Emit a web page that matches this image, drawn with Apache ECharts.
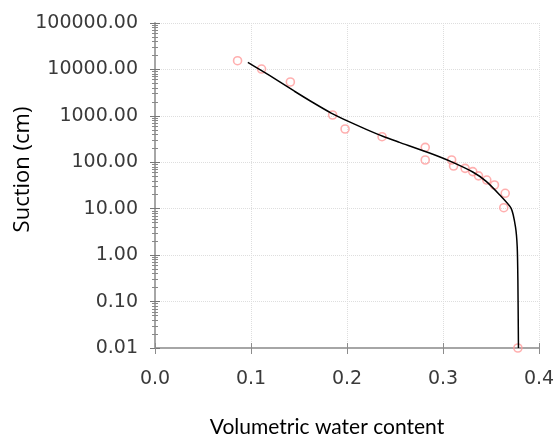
<!DOCTYPE html>
<html>
<head>
<meta charset="utf-8">
<script src="https://cdn.jsdelivr.net/npm/echarts@6/dist/echarts.min.js"></script>
<style>
  html, body { margin: 0; padding: 0; background: #fff; }
  #main { width: 557px; height: 437px; }
</style>
</head>
<body>
<div id="main"></div>
<script>
// measured points (volumetric water content, suction in cm)
const obsTheta = [0.086, 0.111, 0.141, 0.185, 0.198, 0.2365, 0.2815, 0.2815, 0.309, 0.311, 0.323, 0.331, 0.337, 0.3456, 0.3536, 0.3648, 0.3633, 0.378]
const obsSuction = [15400, 10200, 5360, 1043, 521, 356, 210, 112, 112, 83, 74, 63, 51, 41.5, 32.4, 21.5, 10.5, 0.01]

// fitted curve
const fitTheta = [0.0967, 0.1106, 0.1279, 0.1453, 0.1627, 0.1835, 0.2026, 0.22, 0.2373, 0.2547, 0.286, 0.309, 0.331, 0.345, 0.3589, 0.371, 0.3755, 0.3773, 0.378, 0.3786]
const fitSuction = [14125, 9550, 5750, 3390, 2040, 1150, 741, 513, 363, 269, 158, 102, 61.7, 38.9, 20, 10.2, 4.07, 1.51, 0.29, 0.01]

const labelFont = { fontFamily: 'DejaVu Sans', fontSize: 19, color: '#3a3a3a' }

const myChart = echarts.init(document.getElementById('main'), null, { renderer: 'canvas' })
const option = {
  animation: false,
  grid: { left: 155, right: 18, top: 23, bottom: 89, outerBoundsMode: 'none', containLabel: false },
  xAxis: [{
    type: 'value',
    min: 0,
    max: 0.4,
    interval: 0.1,
    name: 'Volumetric water content',
    nameLocation: 'middle',
    nameGap: 69,
    nameMoveOverlap: false,
    nameTextStyle: { fontFamily: 'Lato', fontSize: 21, color: '#000', padding: [0, 40, 0, 0] },
    axisLine: { lineStyle: { color: '#a6a6a6', width: 2 } },
    axisTick: { show: true, length: 6, lineStyle: { color: '#8c8c8c', width: 1 } },
    axisLabel: Object.assign({ margin: 22, formatter: v => v.toFixed(1) }, labelFont),
    splitLine: { show: true, lineStyle: { color: '#dedede', type: 'dotted' } }
  }, {
    type: 'value',
    min: 0,
    max: 0.4,
    interval: 0.1,
    position: 'bottom',
    axisLine: { show: false },
    axisTick: { show: true, inside: true, length: 5, lineStyle: { color: '#8c8c8c', width: 1 } },
    axisLabel: { show: false },
    splitLine: { show: false }
  }],
  yAxis: [{
    type: 'log',
    logBase: 10,
    min: 0.01,
    max: 100000,
    name: 'Suction (cm)',
    nameLocation: 'middle',
    nameGap: 121,
    nameMoveOverlap: false,
    nameTextStyle: { fontFamily: 'Open Sans', fontSize: 22, color: '#000', padding: [0, 0, 0, 32] },
    axisLine: { lineStyle: { color: '#a6a6a6', width: 2 } },
    axisTick: { show: true, length: 5, lineStyle: { color: '#777', width: 1 } },
    minorTick: { show: true, splitNumber: 9, length: 3, lineStyle: { color: '#888' } },
    axisLabel: Object.assign({ margin: 17, formatter: v => v.toFixed(2) }, labelFont),
    splitLine: { show: true, lineStyle: { color: '#dedede', type: 'dotted' } }
  }, {
    type: 'log',
    logBase: 10,
    min: 0.01,
    max: 100000,
    position: 'left',
    axisLine: { show: false },
    axisTick: { show: true, inside: true, length: 5, lineStyle: { color: '#777', width: 1 } },
    minorTick: { show: true, splitNumber: 9, length: 3, lineStyle: { color: '#888' } },
    axisLabel: { show: false },
    splitLine: { show: false }
  }],
  series: [{
    type: 'line',
    data: fitTheta.map((t, i) => [t, fitSuction[i]]),
    symbol: 'none',
    smooth: 0.2,
    lineStyle: { color: '#000', width: 1.5 },
    z: 3
  }, {
    type: 'scatter',
    data: obsTheta.map((t, i) => [t, obsSuction[i]]),
    symbol: 'circle',
    symbolSize: 8,
    itemStyle: { color: 'rgba(255,255,255,0)', borderColor: '#ff9b9b', borderWidth: 1.6 },
    z: 2
  }]
}
myChart.setOption(option)
</script>
</body>
</html>
